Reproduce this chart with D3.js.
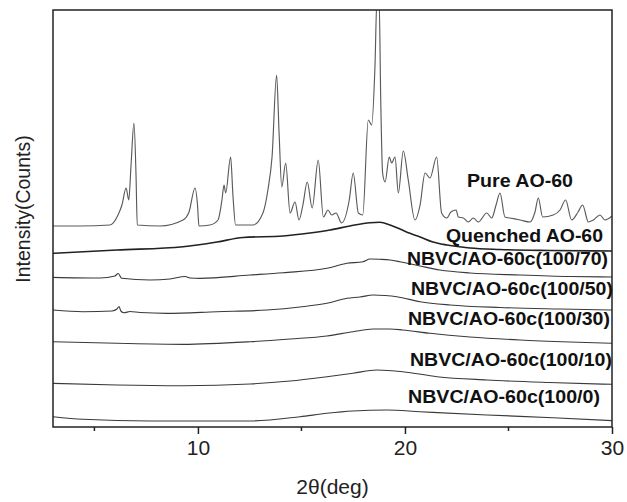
<!DOCTYPE html>
<html>
<head>
<meta charset="utf-8">
<script src="https://cdn.jsdelivr.net/npm/d3@7"></script>
<style>
	html, body { margin: 0; padding: 0; background: #fff; }
	svg { display: block; font-family: "Liberation Sans", Arial, Helvetica, sans-serif; }
</style>
</head>
<body>
<div id="chart"></div>
<script>
// 2theta (deg) / intensity (arb. counts, stacked)
var pure_ao60 = [
	[3.00, 2010], [4.30, 2010], [5.75, 2020], [6.14, 2120], [6.33, 2220], [6.53, 2390], [6.66, 2270],
	[6.77, 2620], [6.91, 3040], [7.01, 2520], [7.07, 2020], [8.17, 2010], [9.28, 2070], [9.57, 2150],
	[9.86, 2390], [9.98, 2220], [10.05, 2010], [10.58, 2020], [10.97, 2070], [11.16, 2270], [11.26, 2420],
	[11.34, 2340], [11.58, 2700], [11.69, 2320], [11.82, 2020], [12.66, 2020], [13.14, 2140], [13.38, 2370],
	[13.58, 2700], [13.80, 3520], [13.92, 2940], [14.05, 2400], [14.24, 2640], [14.45, 2140], [14.69, 2250],
	[14.88, 2070], [15.07, 2220], [15.28, 2450], [15.52, 2190], [15.81, 2670], [16.06, 2100], [16.28, 2170],
	[16.46, 2120], [16.67, 2140], [16.94, 2040], [17.31, 2270], [17.50, 2540], [17.75, 2140], [17.96, 2120],
	[18.23, 3070], [18.39, 3020], [18.55, 3600], [18.65, 4300], [18.75, 4300], [18.83, 3270], [18.92, 2540],
	[19.04, 2450], [19.24, 2700], [19.36, 2640], [19.52, 2700], [19.68, 2340], [19.92, 2760], [20.16, 2470],
	[20.48, 2070], [20.73, 2220], [20.97, 2540], [21.21, 2490], [21.53, 2700], [21.77, 2140], [22.02, 2090],
	[22.22, 2150], [22.47, 2170], [22.58, 2100], [22.82, 2090], [23.06, 2050], [23.30, 2090], [23.54, 2050],
	[23.95, 2140], [24.19, 2090], [24.40, 2220], [24.59, 2340], [24.83, 2100], [25.07, 2090], [25.56, 2070],
	[26.04, 2050], [26.28, 2150], [26.44, 2290], [26.65, 2100], [27.16, 2120], [27.49, 2170], [27.76, 2270],
	[28.05, 2070], [28.36, 2150], [28.58, 2220], [28.86, 2050], [29.10, 2070], [29.42, 2120], [29.66, 2070],
	[30.00, 2110]
];

var quenched_ao60 = [
	[3.00, 1737], [6.09, 1770], [9.28, 1803], [10.92, 1850], [12.18, 1895], [14.11, 1910], [15.41, 1940],
	[16.38, 1970], [17.34, 2010], [18.31, 2043], [18.79, 2047], [19.28, 2020], [19.76, 1980], [20.24, 1937],
	[20.73, 1900], [21.35, 1850], [22.03, 1820], [23.14, 1790], [24.59, 1775], [27.00, 1765], [30.00, 1760]
];

var nbvc_100_70 = [
	[3.00, 1497], [5.27, 1490], [5.99, 1510], [6.15, 1535], [6.32, 1487], [7.69, 1470], [8.65, 1480],
	[9.38, 1505], [9.62, 1490], [10.10, 1487], [12.52, 1520], [14.11, 1543], [16.23, 1587], [17.20, 1637],
	[17.97, 1653], [18.31, 1680], [18.79, 1677], [19.28, 1670], [19.76, 1653], [20.73, 1610], [21.69, 1570],
	[23.14, 1540], [25.56, 1520], [27.97, 1505], [30.00, 1500]
];

var nbvc_100_50 = [
	[3.00, 1170], [4.45, 1153], [5.85, 1160], [6.09, 1180], [6.19, 1205], [6.28, 1160], [6.43, 1143],
	[6.72, 1155], [7.20, 1145], [8.51, 1137], [10.92, 1153], [13.34, 1170], [14.93, 1200], [16.23, 1237],
	[17.20, 1287], [17.83, 1300], [18.46, 1320], [19.04, 1315], [19.61, 1303], [20.73, 1253], [22.18, 1220],
	[24.59, 1195], [27.49, 1180], [30.00, 1170]
];

var nbvc_100_30 = [
	[3.00, 853], [6.09, 837], [9.28, 827], [12.52, 853], [14.45, 880], [16.23, 910], [17.49, 953],
	[18.46, 980], [19.28, 980], [19.90, 970], [21.21, 937], [23.14, 900], [25.56, 870], [27.97, 850],
	[30.00, 837]
];

var nbvc_100_10 = [
	[3.00, 437], [6.09, 420], [9.28, 413], [12.52, 430], [14.45, 460], [16.23, 503], [17.49, 537],
	[18.65, 570], [19.90, 553], [21.55, 503], [23.96, 470], [26.97, 445], [30.00, 427]
];

var nbvc_100_0 = [
	[3.00, 103], [4.45, 77], [7.69, 60], [12.52, 60], [14.93, 103], [16.23, 137], [17.49, 160],
	[19.13, 170], [20.73, 153], [23.96, 120], [27.15, 93], [30.00, 63]
];

var series_names = [
	"Pure AO-60", "Quenched AO-60", "NBVC/AO-60c(100/70)", "NBVC/AO-60c(100/50)",
	"NBVC/AO-60c(100/30)", "NBVC/AO-60c(100/10)", "NBVC/AO-60c(100/0)"
];
var major_ticks = [10, 20, 30];
var minor_ticks = [5, 15, 25];

var all_series = [pure_ao60, quenched_ao60, nbvc_100_70, nbvc_100_50, nbvc_100_30, nbvc_100_10, nbvc_100_0];

// label layout: left x, baseline y, text width (px)
var label_layout = [
	[467, 187, 106], [446, 242, 157], [407, 265, 201], [411, 295, 202],
	[408, 325, 202], [410, 366, 202], [408, 403, 192]
];

var w = 627;
var h = 502;
var margin = {top: 10, right: 15, bottom: 75, left: 53};
var pw = w - margin.left - margin.right;
var ph = h - margin.top - margin.bottom;

var svg = d3.select("#chart").append("svg")
	.attr("width", w)
	.attr("height", h);

var x = d3.scaleLinear().domain([3, 30]).range([margin.left, margin.left + pw]);
var y = d3.scaleLinear().domain([0, 4170]).range([margin.top + ph, margin.top]);

svg.append("clipPath")
	.attr("id", "plot-clip")
	.append("rect")
	.attr("x", margin.left)
	.attr("y", margin.top)
	.attr("width", pw)
	.attr("height", ph);

var line_smooth = d3.line()
	.curve(d3.curveMonotoneX)
	.x(function (d) { return x(d[0]); })
	.y(function (d) { return y(d[1]); });

var curves = svg.append("g").attr("clip-path", "url(#plot-clip)");

curves.selectAll(".xrd")
	.data(all_series)
	.enter()
	.append("path")
	.attr("class", "xrd")
	.attr("fill", "none")
	.attr("stroke-linejoin", "round")
	.attr("stroke", function (d, i) { return i == 0 ? "#5a5a5a" : (i == 1 ? "#222" : "#3a3a3a"); })
	.attr("stroke-width", function (d, i) { return i == 1 ? 1.6 : 1.15; })
	.attr("d", line_smooth);

// frame
svg.append("rect")
	.attr("x", margin.left)
	.attr("y", margin.top)
	.attr("width", pw)
	.attr("height", ph)
	.attr("fill", "none")
	.attr("stroke", "#222")
	.attr("stroke-width", 1.5);

// bottom axis, ticks pointing out
var x_axis = d3.axisBottom(x)
	.tickValues(major_ticks)
	.tickSize(7)
	.tickPadding(6)
	.tickFormat(d3.format("d"));

var gx = svg.append("g")
	.attr("transform", "translate(0," + (margin.top + ph) + ")")
	.call(x_axis);

gx.select(".domain").remove();
gx.selectAll(".tick line").attr("stroke", "#222").attr("stroke-width", 1.5);
gx.selectAll(".tick text")
	.attr("fill", "#222")
	.attr("font-size", "21px")
	.attr("font-family", "'Liberation Sans', Arial, sans-serif");

svg.append("g")
	.selectAll(".minor")
	.data(minor_ticks)
	.enter()
	.append("line")
	.attr("class", "minor")
	.attr("x1", function (d) { return x(d); })
	.attr("x2", function (d) { return x(d); })
	.attr("y1", margin.top + ph)
	.attr("y2", margin.top + ph + 4)
	.attr("stroke", "#222")
	.attr("stroke-width", 1.5);

// axis titles
svg.append("text")
	.attr("x", margin.left + pw / 2)
	.attr("y", 494)
	.attr("text-anchor", "middle")
	.attr("font-size", "21px")
	.attr("fill", "#222")
	.text("2θ(deg)");

svg.append("text")
	.attr("transform", "translate(30,209) rotate(-90)")
	.attr("text-anchor", "middle")
	.attr("font-size", "19.5px")
	.attr("fill", "#222")
	.text("Intensity(Counts)");

// series labels
svg.append("g")
	.selectAll(".series-label")
	.data(series_names)
	.enter()
	.append("text")
	.attr("class", "series-label")
	.attr("x", function (d, i) { return label_layout[i][0]; })
	.attr("y", function (d, i) { return label_layout[i][1]; })
	.attr("textLength", function (d, i) { return label_layout[i][2]; })
	.attr("lengthAdjust", "spacingAndGlyphs")
	.attr("font-size", "19px")
	.attr("font-weight", "bold")
	.attr("fill", "#111")
	.text(function (d) { return d; });
</script>
</body>
</html>
